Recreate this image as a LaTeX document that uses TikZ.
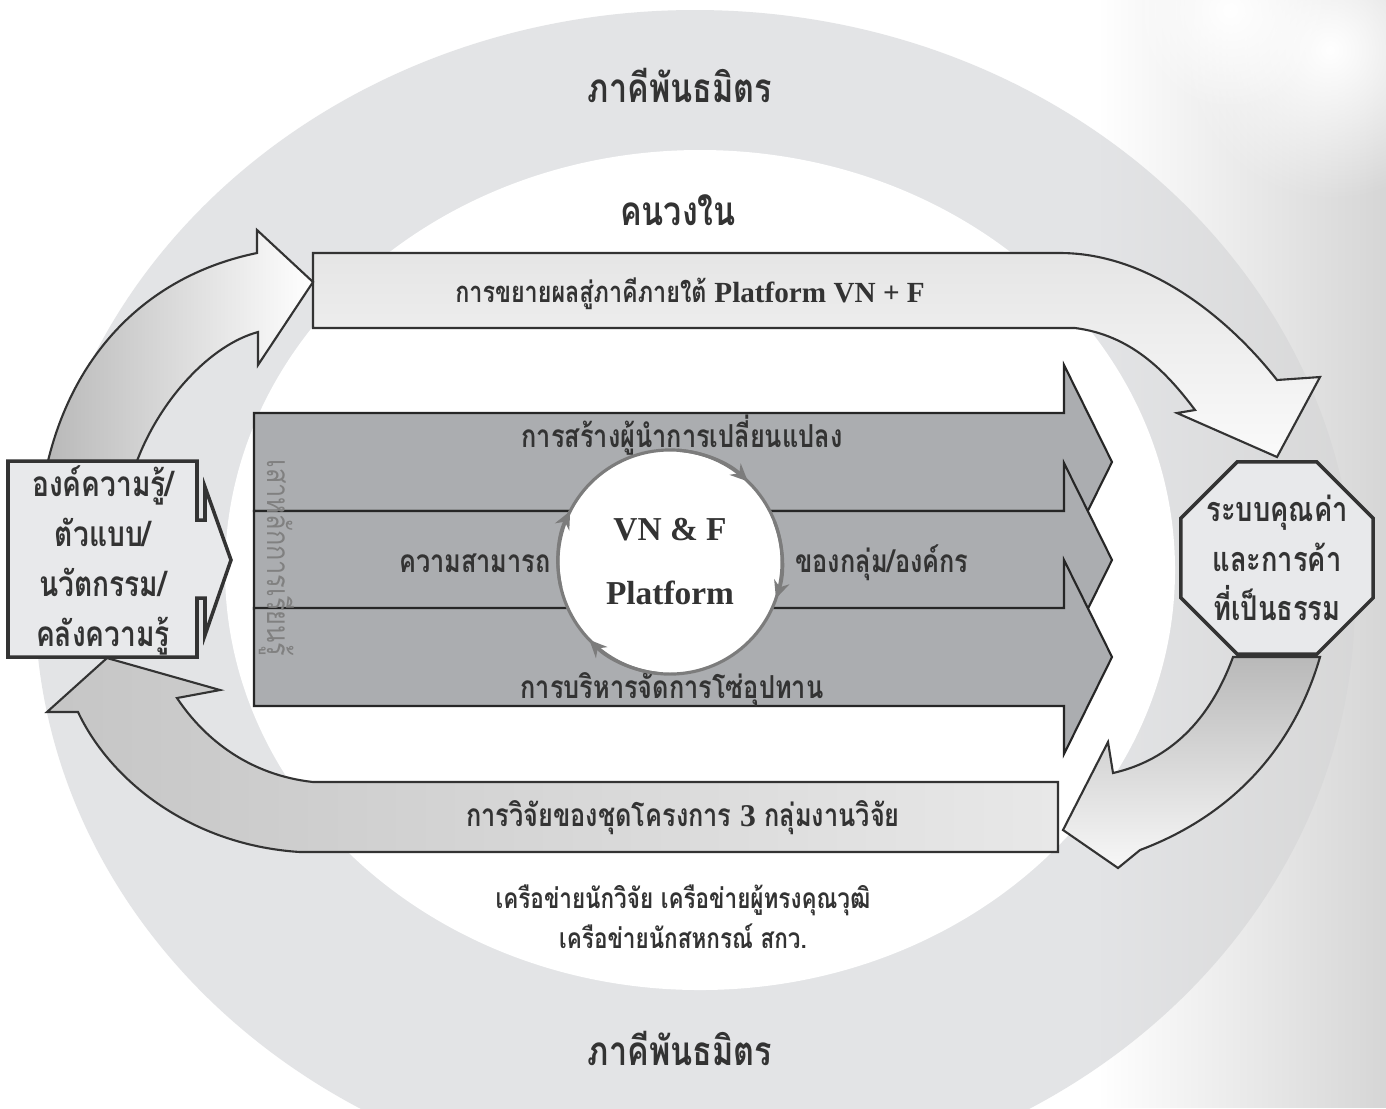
\documentclass[tikz,border=0pt]{standalone}
\usepackage{fontspec}
\setmainfont{Liberation Serif}
\newfontfamily\thaifont[Script=Thai,FakeStretch=0.8]{Loma}
\usetikzlibrary{shapes.geometric,arrows.meta,fadings}

\definecolor{ink}{HTML}{333333}
\definecolor{ringgray}{HTML}{E3E4E6}
\definecolor{bargray}{HTML}{ABADB0}
\definecolor{boxgray}{HTML}{E8E9EB}
\definecolor{hubgray}{HTML}{7C7C7C}

\tikzfading[name=softcloud, inner color=transparent!0, outer color=transparent!100]

\tikzset{
	titletext/.style={font=\thaifont\bfseries\fontsize{11.5}{14}\selectfont, text=ink, inner sep=0pt},
	labeltext/.style={font=\thaifont\bfseries\fontsize{9}{12}\selectfont, text=ink, inner sep=0pt},
	boxtext/.style={font=\thaifont\bfseries\fontsize{10}{14.2}\selectfont, text=ink, inner sep=0pt, align=center},
	notetext/.style={font=\thaifont\bfseries\fontsize{8}{11.4}\selectfont, text=ink, inner sep=0pt, align=center},
	outline/.style={draw=ink, line width=0.6pt},
	bararrow/.style={fill=bargray, draw=black!85, line width=0.6pt},
	hubarrow/.style={draw=hubgray, line width=0.9pt, -{Stealth[length=5pt,width=4.5pt]}},
}

\begin{document}
\begin{tikzpicture}[x=0.01cm, y=-0.01cm]
	\useasboundingbox (0,0) rectangle (1386,1108);
	%background and partner ring
	\fill[white] (0,0) rectangle (1386,1108);
	\fill[ringgray] (695,600) ellipse [x radius=660, y radius=590];
	\fill[gray!32, path fading=west] (1100,0) rectangle (1386,1108);
	\fill[white, path fading=softcloud] (1330,50) circle [radius=150];
	\fill[white, path fading=softcloud] (1230,10) circle [radius=100];
	\fill[white] (700,570) ellipse [x radius=475, y radius=420];
	
	\node[titletext] (partnertop) at (680,85) {ภาคีพันธมิตร};
	\node[titletext] (insiders) at (678,210) {คนวงใน};
	\node[titletext] (partnerbottom) at (680,1048) {ภาคีพันธมิตร};
	
	%top band, bending down to the octagon
	\shadedraw[outline, top color=gray!20, bottom color=gray!4]
		(313,253) -- (1060,253) .. controls (1150,253) and (1230,320) .. (1277,380)
		-- (1320,377) -- (1277,457) -- (1177,413) -- (1195,410)
		.. controls (1165,370) and (1130,335) .. (1075,328) -- (313,328) -- cycle;
	\node[labeltext, font=\thaifont\bfseries\fontsize{8.3}{11}\selectfont] (expand) at (690,294) {การขยายผลสู่ภาคีภายใต้ {\rmfamily\bfseries Platform VN + F}};
	
	%curved arrow from the box up to the band
	\shadedraw[outline, left color=gray!55, right color=white]
		(48,461) .. controls (75,350) and (150,275) .. (257,253)
		-- (257,230) -- (313,282) -- (258,365) -- (258,332)
		.. controls (210,345) and (160,400) .. (137,461) -- cycle;
	
	%three pillar arrows
	\foreach \c in {462,560,657}{
		\filldraw[bararrow] (254,\c-49) -- (1064,\c-49) -- (1064,\c-97) -- (1112,\c)
			-- (1064,\c+97) -- (1064,\c+49) -- (254,\c+49) -- cycle;
	}
	\node[font=\thaifont\fontsize{9}{10}\selectfont, text=black!50, rotate=-90, inner sep=0pt] (pillar) at (277,558) {เสาหลักการเรียนรู้};
	
	\node[labeltext] (leader) at (682,435) {การสร้างผู้นำการเปลี่ยนแปลง};
	\node[labeltext] (ability) at (475,563) {ความสามารถ};
	\node[labeltext] (groups) at (882,563) {ของกลุ่ม/องค์กร};
	\node[labeltext] (supply) at (672,690) {การบริหารจัดการโซ่อุปทาน};
	
	%hub
	\node[circle, fill=white, minimum size=2.26cm, inner sep=0pt] (hub) at (670,562) {};
	\draw[hubgray, line width=0.9pt] (hub.center) circle [radius=1.12cm];
	\foreach \s/\e in {86/46, 21/-19, -96/-136, 193/153}{
		\draw[hubarrow] (hub.center) ++(\s:1.12cm) arc [start angle=\s, end angle=\e, radius=1.12cm];
	}
	\node[font=\bfseries\fontsize{9.5}{11}\selectfont, text=ink, inner sep=0pt] (vnf) at (670,530) {VN \& F};
	\node[font=\bfseries\fontsize{9.5}{11}\selectfont, text=ink, inner sep=0pt] (platform) at (670,593) {Platform};
	
	%curved arrow from the octagon down to the bottom band
	\shadedraw[outline, top color=gray!55, bottom color=gray!6]
		(1233,657) .. controls (1210,720) and (1170,760) .. (1113,773)
		-- (1108,742) -- (1063,830) -- (1118,868) -- (1140,850)
		.. controls (1220,820) and (1290,760) .. (1320,657) -- cycle;
	\node[draw=ink, line width=1pt, fill=boxgray, regular polygon, regular polygon sides=8, minimum size=2.08cm, inner sep=0pt] (fair) at (1277,558) {};
	\node[boxtext, font=\thaifont\bfseries\fontsize{9.7}{14}\selectfont] (fairtext) at (fair.center) {ระบบคุณค่า\\และการค้า\\ที่เป็นธรรม};
	
	%bottom band, bending up to the box
	\shadedraw[outline, left color=gray!45, middle color=white, right color=gray!18]
		(1058,782) -- (1058,852) -- (300,852) .. controls (190,845) and (110,780) .. (78,712)
		-- (47,712) -- (107,658) -- (220,690) -- (177,698)
		.. controls (205,740) and (250,775) .. (313,782) -- cycle;
	\node[labeltext] (research) at (683,818) {การวิจัยของชุดโครงการ {\rmfamily\bfseries 3} กลุ่มงานวิจัย};
	\node[notetext] (network) at (683,917) {เครือข่ายนักวิจัย เครือข่ายผู้ทรงคุณวุฒิ\\เครือข่ายนักสหกรณ์ สกว.};
	
	%knowledge box
	\filldraw[fill=boxgray, draw=ink, line width=1pt] (8,461) -- (197,461) -- (197,520) -- (205,520)
		-- (205,487) -- (231,560) -- (205,635) -- (205,598) -- (197,598) -- (197,657) -- (8,657) -- cycle;
	\node[boxtext] (know) at (103,560) {องค์ความรู้/\\ตัวแบบ/\\นวัตกรรม/\\คลังความรู้};
\end{tikzpicture}
\end{document}
